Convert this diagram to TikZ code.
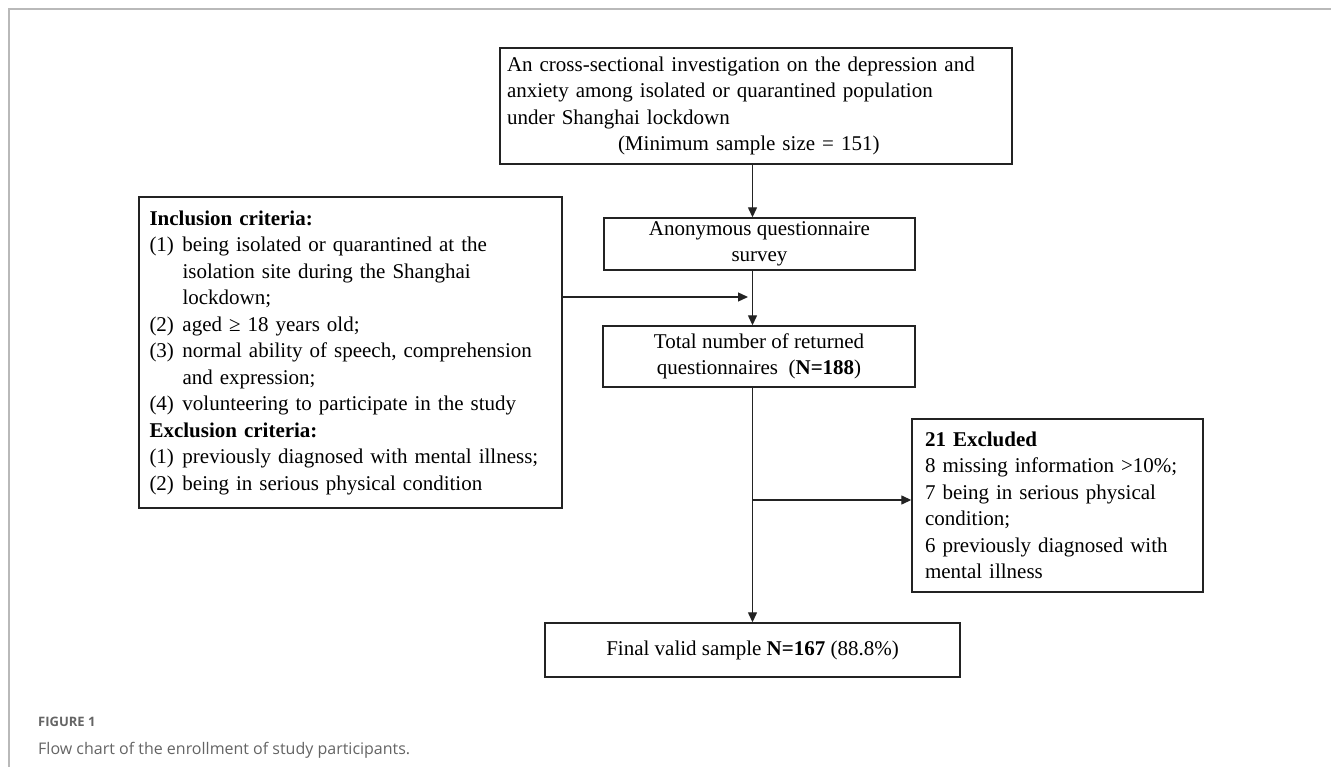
\documentclass[tikz,border=0pt]{standalone}
\usepackage{fontspec}
\setmainfont{Liberation Serif}
\newfontfamily\captionfont{Open Sans}
\usetikzlibrary{arrows.meta}
\definecolor{framegray}{RGB}{185,185,185}
\definecolor{captiongray}{RGB}{100,100,100}
\definecolor{boxline}{RGB}{35,35,35}
\newcommand{\critlabel}[1]{\makebox[33pt][l]{#1}}

\begin{document}
\begin{tikzpicture}[x=1pt, y=-1pt,
    stage/.style ={draw=boxline, line width=1.4pt, inner ysep=0pt,
      font=\fontsize{21pt}{26.5pt}\selectfont},
    link/.style ={draw=boxline, line width=1.3pt, -{Triangle[length=10pt,width=9pt]}}]
   \useasboundingbox (0,0) rectangle (1331,767);
   \draw[framegray, line width=1.5pt] (1331,9) -- (9,9) -- (9,767);

   \node[stage, text width=498pt, inner xsep=7pt, minimum height=116pt, align=left] (design) at (756,106)
     {An cross-sectional investigation on the depression and\\
      anxiety among isolated or quarantined population\\
      under Shanghai lockdown\\
      \hspace*{111pt}(Minimum sample size = 151)};
   \node[stage, minimum width=311pt, minimum height=52pt, align=center] (survey) at (759.5,244)
     {Anonymous questionnaire\\ survey};
   \node[stage, minimum width=312pt, minimum height=61pt, align=center] (returned) at (759,356.5)
     {Total number of returned\\ questionnaires~~(\textbf{N=188})};
   \node[stage, text width=402pt, inner xsep=10.5pt, minimum height=311pt, align=left] (criteria) at (350.5,352.5)
     {\textbf{Inclusion criteria:}\\
      \critlabel{(1)}being isolated or quarantined at the\\
      \hspace*{33pt}isolation site during the Shanghai\\
      \hspace*{33pt}lockdown;\\
      \critlabel{(2)}aged ≥ 18 years old;\\
      \critlabel{(3)}normal ability of speech, comprehension\\
      \hspace*{33pt}and expression;\\
      \critlabel{(4)}volunteering to participate in the study\\
      \textbf{Exclusion criteria:}\\
      \critlabel{(1)}previously diagnosed with mental illness;\\
      \critlabel{(2)}being in serious physical condition};
   \node[stage, text width=265pt, inner xsep=13pt, minimum height=173pt, align=left] (excluded) at (1057.5,505.5)
     {\textbf{21 Excluded}\\
      8 missing information >10\%;\\
      7 being in serious physical\\
      condition;\\
      6 previously diagnosed with\\
      mental illness};
   \node[stage, minimum width=415pt, minimum height=54pt, align=center] (final) at (752.5,650)
     {Final valid sample \textbf{N=167} (88.8\%)};

   \coordinate (axis) at (752.5,0);
   \coordinate (feed) at (752.5,297);
   \coordinate (split) at (752.5,500);

   \draw[link] (design.south -| axis) to (survey.north -| axis);
   \draw[link] (survey.south -| axis) to (returned.north -| axis);
   \draw[link, shorten >=4.5pt] (criteria.east |- feed) to (feed);
   \draw[link] (returned.south -| axis) to (final.north -| axis);
   \draw[link] (split) to (excluded.west |- split);

   \node[anchor=west, inner sep=0pt, text=captiongray,
     font=\captionfont\fontsize{13pt}{15pt}\selectfont\bfseries] (figlabel) at (38,722) {FIGURE 1};
   \node[anchor=west, inner sep=0pt, text=captiongray,
     font=\captionfont\fontsize{16pt}{19pt}\selectfont] (figcaption) at (38,750)
     {Flow chart of the enrollment of study participants.};
 \end{tikzpicture}
\end{document}
